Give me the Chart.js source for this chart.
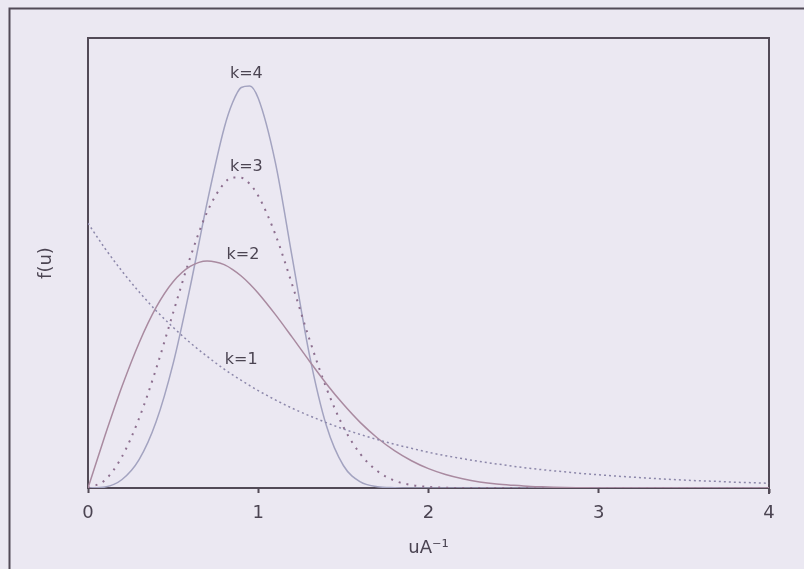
<!DOCTYPE html>
<html>
<head>
<meta charset="utf-8">
<title>Weibull f(u)</title>
<script src="https://cdn.jsdelivr.net/npm/chart.js@4.4.1/dist/chart.umd.min.js"></script>
<style>
  html, body { margin: 0; padding: 0; background: #ebe8f2; }
  #wrap { position: relative; width: 804px; height: 569px; }
</style>
</head>
<body>
<div id="wrap"><canvas id="weibullChart" width="804" height="569"></canvas></div>
<script>
// u values along the x axis (uA^-1), a bit denser round the peaks
const uValues = [0, 0.1, 0.2, 0.3, 0.4, 0.5, 0.6, 0.7, 0.8, 0.85, 0.9, 0.95,
  1.0, 1.1, 1.2, 1.3, 1.4, 1.5, 1.6, 1.7, 1.8, 1.9,
  2.0, 2.1, 2.2, 2.3, 2.4, 2.5, 2.6, 2.7, 2.8, 2.9,
  3.0, 3.1, 3.2, 3.3, 3.4, 3.5, 3.6, 3.7, 3.8, 3.9, 4.0];

// f(u)
const fK1 = [1.000, 0.905, 0.819, 0.741, 0.670, 0.607, 0.549, 0.497, 0.449, 0.427, 0.407, 0.387,
  0.368, 0.333, 0.301, 0.273, 0.247, 0.223, 0.202, 0.183, 0.165, 0.150,
  0.135, 0.122, 0.111, 0.100, 0.091, 0.082, 0.074, 0.067, 0.061, 0.055,
  0.050, 0.045, 0.041, 0.037, 0.033, 0.030, 0.027, 0.025, 0.022, 0.020, 0.018];
const fK2 = [0, 0.198, 0.384, 0.548, 0.682, 0.779, 0.837, 0.858, 0.844, 0.825, 0.801, 0.771,
  0.736, 0.656, 0.569, 0.480, 0.394, 0.316, 0.247, 0.189, 0.141, 0.103,
  0.073, 0.051, 0.035, 0.023, 0.015, 0.010, 0.006, 0.004, 0.002, 0.001,
  0, 0, 0, 0, 0, 0, 0, 0, 0, 0, 0];
const fK3 = [0, 0.030, 0.119, 0.263, 0.450, 0.662, 0.870, 1.043, 1.151, 1.173, 1.172, 1.149,
  1.104, 0.959, 0.767, 0.563, 0.378, 0.231, 0.128, 0.064, 0.028, 0.011,
  0.004, 0.001, 0, 0, 0, 0, 0, 0, 0, 0,
  0, 0, 0, 0, 0, 0, 0, 0, 0, 0, 0];
const fK4 = [0, 0.004, 0.032, 0.107, 0.250, 0.470, 0.759, 1.079, 1.360, 1.457, 1.513, 1.519,
  1.472, 1.231, 0.869, 0.505, 0.236, 0.085, 0.023, 0.005, 0.001, 0,
  0, 0, 0, 0, 0, 0, 0, 0, 0, 0,
  0, 0, 0, 0, 0, 0, 0, 0, 0, 0, 0];

const curveNames = ["k=1", "k=2", "k=3", "k=4"];
const xTicks = [0, 1, 2, 3, 4];

// where the k labels sit, in data units
const labelU = [0.90, 0.91, 0.93, 0.93];
const labelF = [0.485, 0.879, 1.212, 1.564];

const inkColor = "#4b4452";
const axisColor = "#524a57";

function toPoints(ys) {
  return uValues.map((u, i) => ({ x: u, y: ys[i] }));
}

const framePlugin = {
  id: "frames",
  beforeDraw(chart) {
    const ctx = chart.ctx;
    const a = chart.chartArea;
    ctx.save();
    ctx.strokeStyle = axisColor;
    ctx.lineWidth = 2;
    ctx.beginPath();
    // outer page frame
    ctx.moveTo(9.5, 569);
    ctx.lineTo(9.5, 8.5);
    ctx.lineTo(804, 8.5);
    // top and right of the plot box
    ctx.moveTo(a.left, a.top);
    ctx.lineTo(a.right, a.top);
    ctx.lineTo(a.right, a.bottom + 6);
    ctx.stroke();
    ctx.restore();
  }
};

const curveLabels = {
  id: "curveLabels",
  afterDatasetsDraw(chart) {
    const ctx = chart.ctx;
    const xs = chart.scales.x;
    const ys = chart.scales.y;
    ctx.save();
    ctx.font = "16px 'DejaVu Sans'";
    ctx.fillStyle = inkColor;
    ctx.textAlign = "center";
    ctx.textBaseline = "middle";
    curveNames.forEach((name, i) => {
      ctx.fillText(name, xs.getPixelForValue(labelU[i]), ys.getPixelForValue(labelF[i]));
    });
    ctx.restore();
  }
};

const ctx = document.getElementById("weibullChart").getContext("2d");
new Chart(ctx, {
  type: "line",
  data: {
    datasets: [
      {
        label: curveNames[0],
        data: toPoints(fK1),
        borderColor: "#8c87aa",
        borderWidth: 1.5,
        borderDash: [2, 3]
      },
      {
        label: curveNames[1],
        data: toPoints(fK2),
        borderColor: "#a98aa0",
        borderWidth: 1.5
      },
      {
        label: curveNames[2],
        data: toPoints(fK3),
        borderColor: "#8d6f8f",
        borderWidth: 2,
        borderDash: [2, 6]
      },
      {
        label: curveNames[3],
        data: toPoints(fK4),
        borderColor: "#a3a3c0",
        borderWidth: 1.5
      }
    ]
  },
  options: {
    responsive: false,
    animation: false,
    devicePixelRatio: 1,
    parsing: false,
    elements: {
      point: { radius: 0 },
      line: { cubicInterpolationMode: "monotone", fill: false }
    },
    layout: { padding: { top: 38, right: 35, left: 0, bottom: 0 } },
    plugins: {
      legend: { display: false },
      tooltip: { enabled: false }
    },
    scales: {
      x: {
        type: "linear",
        min: 0,
        max: 4,
        afterBuildTicks: (s) => { s.ticks = xTicks.map((v) => ({ value: v })); },
        ticks: {
          color: inkColor,
          padding: 10,
          font: { family: "'DejaVu Sans'", size: 18 }
        },
        grid: {
          drawOnChartArea: false,
          drawTicks: true,
          tickLength: 5,
          tickWidth: 2,
          tickColor: axisColor
        },
        border: { display: true, color: axisColor, width: 2 },
        title: {
          display: true,
          text: "uA\u207B\u00B9",
          color: inkColor,
          font: { family: "'DejaVu Sans'", size: 18 },
          padding: { top: 0, bottom: 10 }
        },
        afterFit: (s) => { s.height = 81; }
      },
      y: {
        type: "linear",
        min: 0,
        max: 1.7,
        ticks: { display: false },
        grid: { drawOnChartArea: false, drawTicks: false },
        border: { display: true, color: axisColor, width: 2 },
        title: {
          display: true,
          text: "f(u)",
          color: inkColor,
          font: { family: "'DejaVu Sans'", size: 18 },
          padding: { top: 36, bottom: 0 }
        },
        afterFit: (s) => { s.width = 88; }
      }
    }
  },
  plugins: [framePlugin, curveLabels]
});
</script>
</body>
</html>
